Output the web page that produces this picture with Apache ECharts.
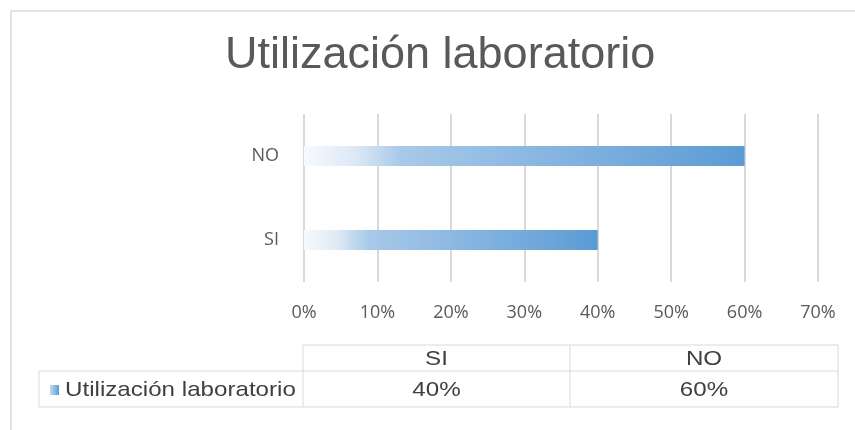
<!DOCTYPE html>
<html lang="es">
<head>
    <meta charset="UTF-8">
    <title>Utilización laboratorio</title>
    <script src="https://cdn.jsdelivr.net/npm/echarts@6/dist/echarts.min.js"></script>
    <style>
        html, body { margin: 0; padding: 0; background: #fff; }
        #main { width: 855px; height: 430px; }
    </style>
</head>
<body>
<div id="main"></div>
<script type="text/javascript">
var categories = ['SI', 'NO'];
var seriesName = 'Utilización laboratorio';
var values = [0.4, 0.6];
var tickLabels = ['0%', '10%', '20%', '30%', '40%', '50%', '60%', '70%'];

var grey = '#595959';
var lineCol = '#d9d9d9';
var blue = '#5b9bd5';

function pct(v) { return Math.round(v * 100) + '%'; }

// data table under the plot (text is a bit wide in the original, hence scaleX)
var colX = [303, 570, 838];
var rowY = [345, 371, 407];
var tableLeft = 39;
var tableFont = '21px "Liberation Sans", Arial, sans-serif';
var stretch = 1.15;

var table = [];
function hline(x1, x2, y) {
    table.push({ type: 'line', shape: { x1: x1, y1: y, x2: x2, y2: y }, style: { stroke: lineCol, lineWidth: 1 } });
}
function vline(x, y1, y2) {
    table.push({ type: 'line', shape: { x1: x, y1: y1, x2: x, y2: y2 }, style: { stroke: lineCol, lineWidth: 1 } });
}
function cellText(txt, x, y, align) {
    table.push({
        type: 'text', x: x, y: y, scaleX: stretch,
        style: { text: txt, font: tableFont, fill: '#404040', align: align, verticalAlign: 'middle' }
    });
}
hline(colX[0], colX[2], rowY[0]);
hline(tableLeft, colX[2], rowY[1]);
hline(tableLeft, colX[2], rowY[2]);
vline(tableLeft, rowY[1], rowY[2]);
colX.forEach(function (x) { vline(x, rowY[0], rowY[2]); });

categories.forEach(function (c, i) {
    var cx = (colX[i] + colX[i + 1]) / 2;
    cellText(c, cx, (rowY[0] + rowY[1]) / 2 + 1, 'center');
    cellText(pct(values[i]), cx, (rowY[1] + rowY[2]) / 2 + 1, 'center');
});
var midRow = (rowY[1] + rowY[2]) / 2;
table.push({
    type: 'rect', shape: { x: 50, y: midRow - 4, width: 9, height: 10 },
    style: { fill: new echarts.graphic.LinearGradient(0, 0, 1, 0, [{ offset: 0, color: '#c5dbf0' }, { offset: 1, color: blue }]) }
});
cellText(seriesName, 65, midRow + 1, 'left');

// outer frame
table.push({ type: 'rect', shape: { x: 11, y: 11, width: 900, height: 500 }, style: { fill: 'none', stroke: lineCol, lineWidth: 1.5 }, z: -1 });

var chart = echarts.init(document.getElementById('main'));
chart.setOption({
    animation: false,
    title: {
        text: seriesName,
        left: 220,
        top: 28,
        textStyle: { fontFamily: '"Liberation Sans", Arial, sans-serif', fontSize: 45, fontWeight: 'normal', color: grey }
    },
    grid: { left: 304, right: 37, top: 114, height: 168, containLabel: false },
    xAxis: {
        type: 'value',
        min: 0,
        max: 0.7,
        interval: 0.1,
        axisLine: { show: false },
        axisTick: { show: false },
        axisLabel: {
            margin: 22,
            color: grey,
            fontFamily: '"Open Sans", sans-serif',
            fontSize: 18,
            formatter: function (v) { return tickLabels[Math.round(v * 10)]; }
        },
        splitLine: { lineStyle: { color: lineCol, width: 2 } }
    },
    yAxis: {
        type: 'category',
        data: categories,
        axisLine: { show: false },
        axisTick: { show: false },
        axisLabel: { margin: 25, color: grey, fontFamily: '"Open Sans", sans-serif', fontSize: 18 }
    },
    series: [{
        name: seriesName,
        type: 'bar',
        barWidth: 20,
        data: values,
        itemStyle: {
            color: new echarts.graphic.LinearGradient(0, 0, 1, 0, [
                { offset: 0, color: '#f7fafd' },
                { offset: 0.12, color: '#dbe8f5' },
                { offset: 0.22, color: '#a8c9e9' },
                { offset: 1, color: blue }
            ])
        }
    }],
    graphic: table
});
</script>
</body>
</html>
